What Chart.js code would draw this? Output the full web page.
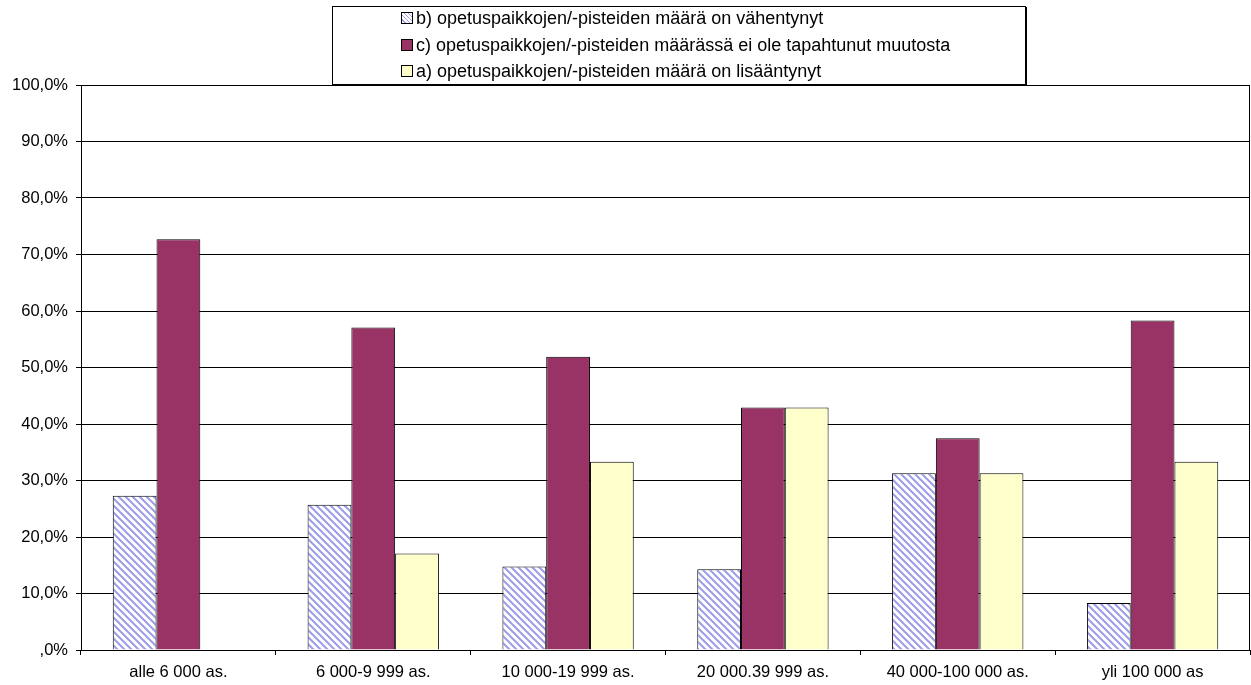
<!DOCTYPE html>
<html>
<head>
<meta charset="utf-8">
<script src="https://cdn.jsdelivr.net/npm/chart.js@4.4.1/dist/chart.umd.min.js"></script>
<style>
  body { margin: 0; background: #fff; font-family: "Liberation Sans", Arial, sans-serif; }
  #wrap { position: relative; width: 1251px; height: 685px; }
  #legend {
    position: absolute; left: 332px; top: 6px; width: 692px; height: 77px;
    border: 1px solid #000; box-shadow: 1px 1px 0 #000; background: #fff;
    font-size: 18px; color: #000;
  }
  .item { position: absolute; left: 68px; height: 20px; line-height: 20px; white-space: nowrap; }
  .sw { display: inline-block; width: 10px; height: 10px; border: 1px solid #000; vertical-align: 0px; margin-right: 3px; }
</style>
</head>
<body>
<div id="wrap">
  <canvas id="chart" width="1251" height="685"></canvas>
  <div id="legend"></div>
</div>
<script>
const categories = ["alle 6 000 as.", "6 000-9 999 as.", "10 000-19 999 as.", "20 000.39 999 as.", "40 000-100 000 as.", "yli 100 000 as"];
const seriesNames = [
  "b) opetuspaikkojen/-pisteiden määrä on vähentynyt",
  "c) opetuspaikkojen/-pisteiden määrässä ei ole tapahtunut muutosta",
  "a) opetuspaikkojen/-pisteiden määrä on lisääntynyt"
];
const vahentynyt = [27.3, 25.7, 14.8, 14.3, 31.3, 8.3];
const eiMuutosta = [72.7, 57.1, 51.9, 42.9, 37.5, 58.3];
const lisaantynyt = [0, 17.1, 33.3, 42.9, 31.3, 33.3];

// diagonal hatch for the "vähentynyt" series
function hatch() {
  const n = 7;
  const c = document.createElement("canvas");
  c.width = n; c.height = n;
  const g = c.getContext("2d");
  g.fillStyle = "#fff";
  g.fillRect(0, 0, n, n);
  g.strokeStyle = "#9c9ce8";
  g.lineWidth = 2;
  g.beginPath();
  g.moveTo(-2, -2); g.lineTo(n + 2, n + 2);
  g.moveTo(-2, n - 2); g.lineTo(2, n + 2);
  g.moveTo(n - 2, -2); g.lineTo(n + 2, 2);
  g.stroke();
  return g.createPattern(c, "repeat");
}
const hatchFill = hatch();
const fills = [hatchFill, "#993366", "#ffffcc"];

// legend box
const legend = document.getElementById("legend");
const rowTops = [1, 28, 54];
seriesNames.forEach((name, i) => {
  const d = document.createElement("div");
  d.className = "item";
  d.style.top = rowTops[i] + "px";
  const sw = document.createElement("span");
  sw.className = "sw";
  if (i === 0) sw.style.background = "repeating-linear-gradient(45deg, #fff 0 2px, #9c9ce8 2px 3px)";
  else sw.style.background = fills[i];
  d.appendChild(sw);
  d.appendChild(document.createTextNode(name));
  legend.appendChild(d);
});

const frame = {
  id: "frame",
  afterDraw(chart) {
    const a = chart.chartArea, g = chart.ctx;
    g.save();
    g.strokeStyle = "#000";
    g.lineWidth = 1;
    g.beginPath();
    g.moveTo(a.right - 0.5, a.top);
    g.lineTo(a.right - 0.5, a.bottom);
    g.stroke();
    g.restore();
  }
};

const axisFont = { family: "Liberation Sans", size: 16.5 };

new Chart(document.getElementById("chart"), {
  type: "bar",
  data: {
    labels: categories,
    datasets: [
      { label: seriesNames[0], data: vahentynyt, backgroundColor: fills[0], borderColor: "#000", borderWidth: 1 },
      { label: seriesNames[1], data: eiMuutosta, backgroundColor: fills[1], borderColor: "#000", borderWidth: 1 },
      { label: seriesNames[2], data: lisaantynyt, backgroundColor: fills[2], borderColor: "#000", borderWidth: 1 }
    ]
  },
  options: {
    responsive: false,
    animation: false,
    layout: { padding: { top: 85, right: 1, left: 0, bottom: 0 } },
    datasets: { bar: { categoryPercentage: 0.674, barPercentage: 1 } },
    plugins: { legend: { display: false }, tooltip: { enabled: false } },
    scales: {
      x: {
        grid: { offset: true, drawOnChartArea: false, color: "#000", tickLength: 5 },
        border: { color: "#000" },
        ticks: { color: "#000", font: axisFont, padding: 8, maxRotation: 0 },
        afterFit(s) { s.height = 35; }
      },
      y: {
        min: 0, max: 100,
        ticks: {
          stepSize: 10, color: "#000", padding: 8,
          font: axisFont,
          callback: v => (v === 0 ? ",0%" : v.toFixed(1).replace(".", ",") + "%")
        },
        grid: { color: "#000", tickLength: 5 },
        border: { color: "#000" },
        afterFit(s) { s.width = 81; }
      }
    }
  },
  plugins: [frame]
});
</script>
</body>
</html>
